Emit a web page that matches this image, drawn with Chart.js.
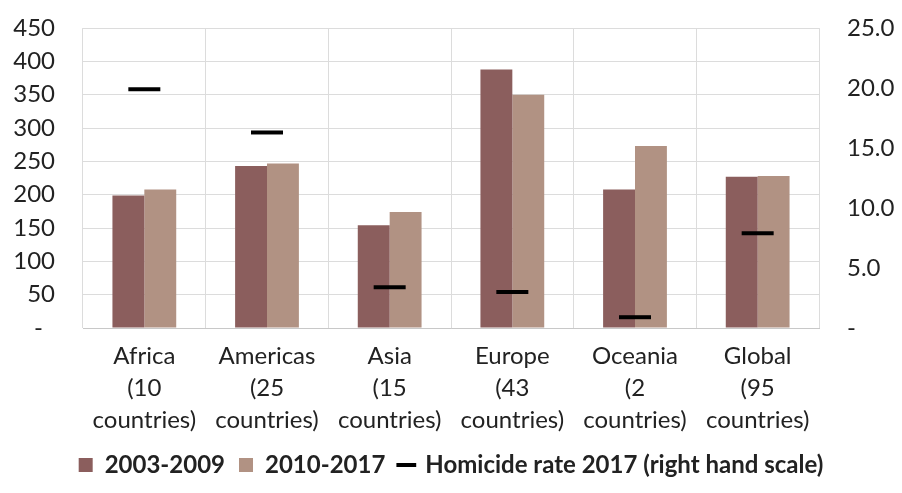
<!DOCTYPE html>
<html>
<head>
<meta charset="utf-8">
<script src="https://cdn.jsdelivr.net/npm/chart.js@4"></script>
<style>
  html, body { margin: 0; padding: 0; background: #fff; }
  #wrap { width: 902px; height: 493px; }
</style>
</head>
<body>
<div id="wrap"><canvas id="chart" width="902" height="493"></canvas></div>
<script>
const regions = [
    ['Africa', '(10', 'countries)'],
    ['Americas', '(25', 'countries)'],
    ['Asia', '(15', 'countries)'],
    ['Europe', '(43', 'countries)'],
    ['Oceania', '(2', 'countries)'],
    ['Global', '(95', 'countries)']
];
const rate2003to2009 = [199, 243, 154, 388, 208, 227];
const rate2010to2017 = [208, 247, 174, 350, 273, 228];
const homicide2017 = [19.9, 16.3, 3.4, 3.0, 0.9, 7.9];
const leftTicks = [0, 50, 100, 150, 200, 250, 300, 350, 400, 450];
const rightTicks = [0, 5, 10, 15, 20, 25];

const darkBar = '#8b5e5d';
const lightBar = '#b19283';
const gridColor = '#dcdcdc';
const textColor = '#222';

Chart.defaults.font.family = 'Lato, "DejaVu Sans", sans-serif';
Chart.defaults.color = textColor;

const ctx = document.getElementById('chart').getContext('2d');
new Chart(ctx, {
    data: {
        labels: regions,
        datasets: [
            {
                type: 'line',
                label: 'Homicide rate 2017 (right hand scale)',
                data: homicide2017,
                yAxisID: 'y1',
                showLine: false,
                pointStyle: 'line',
                pointRadius: 16,
                pointHoverRadius: 16,
                borderColor: '#000',
                backgroundColor: '#000',
                borderWidth: 4,
                order: 0
            },
            {
                type: 'bar',
                label: '2003-2009',
                data: rate2003to2009,
                yAxisID: 'y',
                backgroundColor: darkBar,
                pointStyle: 'rect',
                categoryPercentage: 0.52,
                barPercentage: 1.0,
                order: 1
            },
            {
                type: 'bar',
                label: '2010-2017',
                data: rate2010to2017,
                yAxisID: 'y',
                backgroundColor: lightBar,
                pointStyle: 'rect',
                categoryPercentage: 0.52,
                barPercentage: 1.0,
                order: 2
            }
        ]
    },
    options: {
        responsive: false,
        animation: false,
        layout: { autoPadding: false, padding: { top: 28, left: 0, right: 0, bottom: 6 } },
        plugins: {
            tooltip: { enabled: false },
            legend: {
                position: 'bottom',
                labels: {
                    usePointStyle: true,
                    boxWidth: 14,
                    boxHeight: 14,
                    padding: 14,
                    color: textColor,
                    font: { size: 24, weight: 'bold' },
                    // bars first, then the homicide marker
                    sort: (a, b) => {
                        const rank = (i) => i === 0 ? 9 : i;
                        return rank(a.datasetIndex) - rank(b.datasetIndex);
                    }
                }
            }
        },
        scales: {
            x: {
                grid: { color: gridColor, drawTicks: false, offset: true },
                border: { color: '#c8c8c8' },
                ticks: {
                    padding: 12,
                    maxRotation: 0,
                    autoSkip: false,
                    font: { size: 24, lineHeight: 1.33 }
                },
                afterFit: (scale) => { scale.height = 111; }
            },
            y: {
                position: 'left',
                min: 0,
                max: 450,
                afterBuildTicks: (scale) => { scale.ticks = leftTicks.map(v => ({ value: v })); },
                grid: { color: gridColor, drawTicks: false },
                border: { display: false },
                ticks: {
                    autoSkip: false,
                    padding: 28,
                    // tiny line height so the labels don't push the plot down
                    font: { size: 24, lineHeight: 0.01 },
                    callback: (v) => v === 0 ? '-\u2002' : v
                },
                afterFit: (scale) => { scale.width = 83; }
            },
            y1: {
                position: 'right',
                min: 0,
                max: 25,
                afterBuildTicks: (scale) => { scale.ticks = rightTicks.map(v => ({ value: v })); },
                grid: { drawOnChartArea: false, drawTicks: false },
                border: { display: false },
                ticks: {
                    autoSkip: false,
                    padding: 28,
                    font: { size: 24, lineHeight: 0.01 },
                    callback: (v) => v === 0 ? '-' : v.toFixed(1)
                },
                afterFit: (scale) => { scale.width = 83; }
            }
        }
    }
});
</script>
</body>
</html>
